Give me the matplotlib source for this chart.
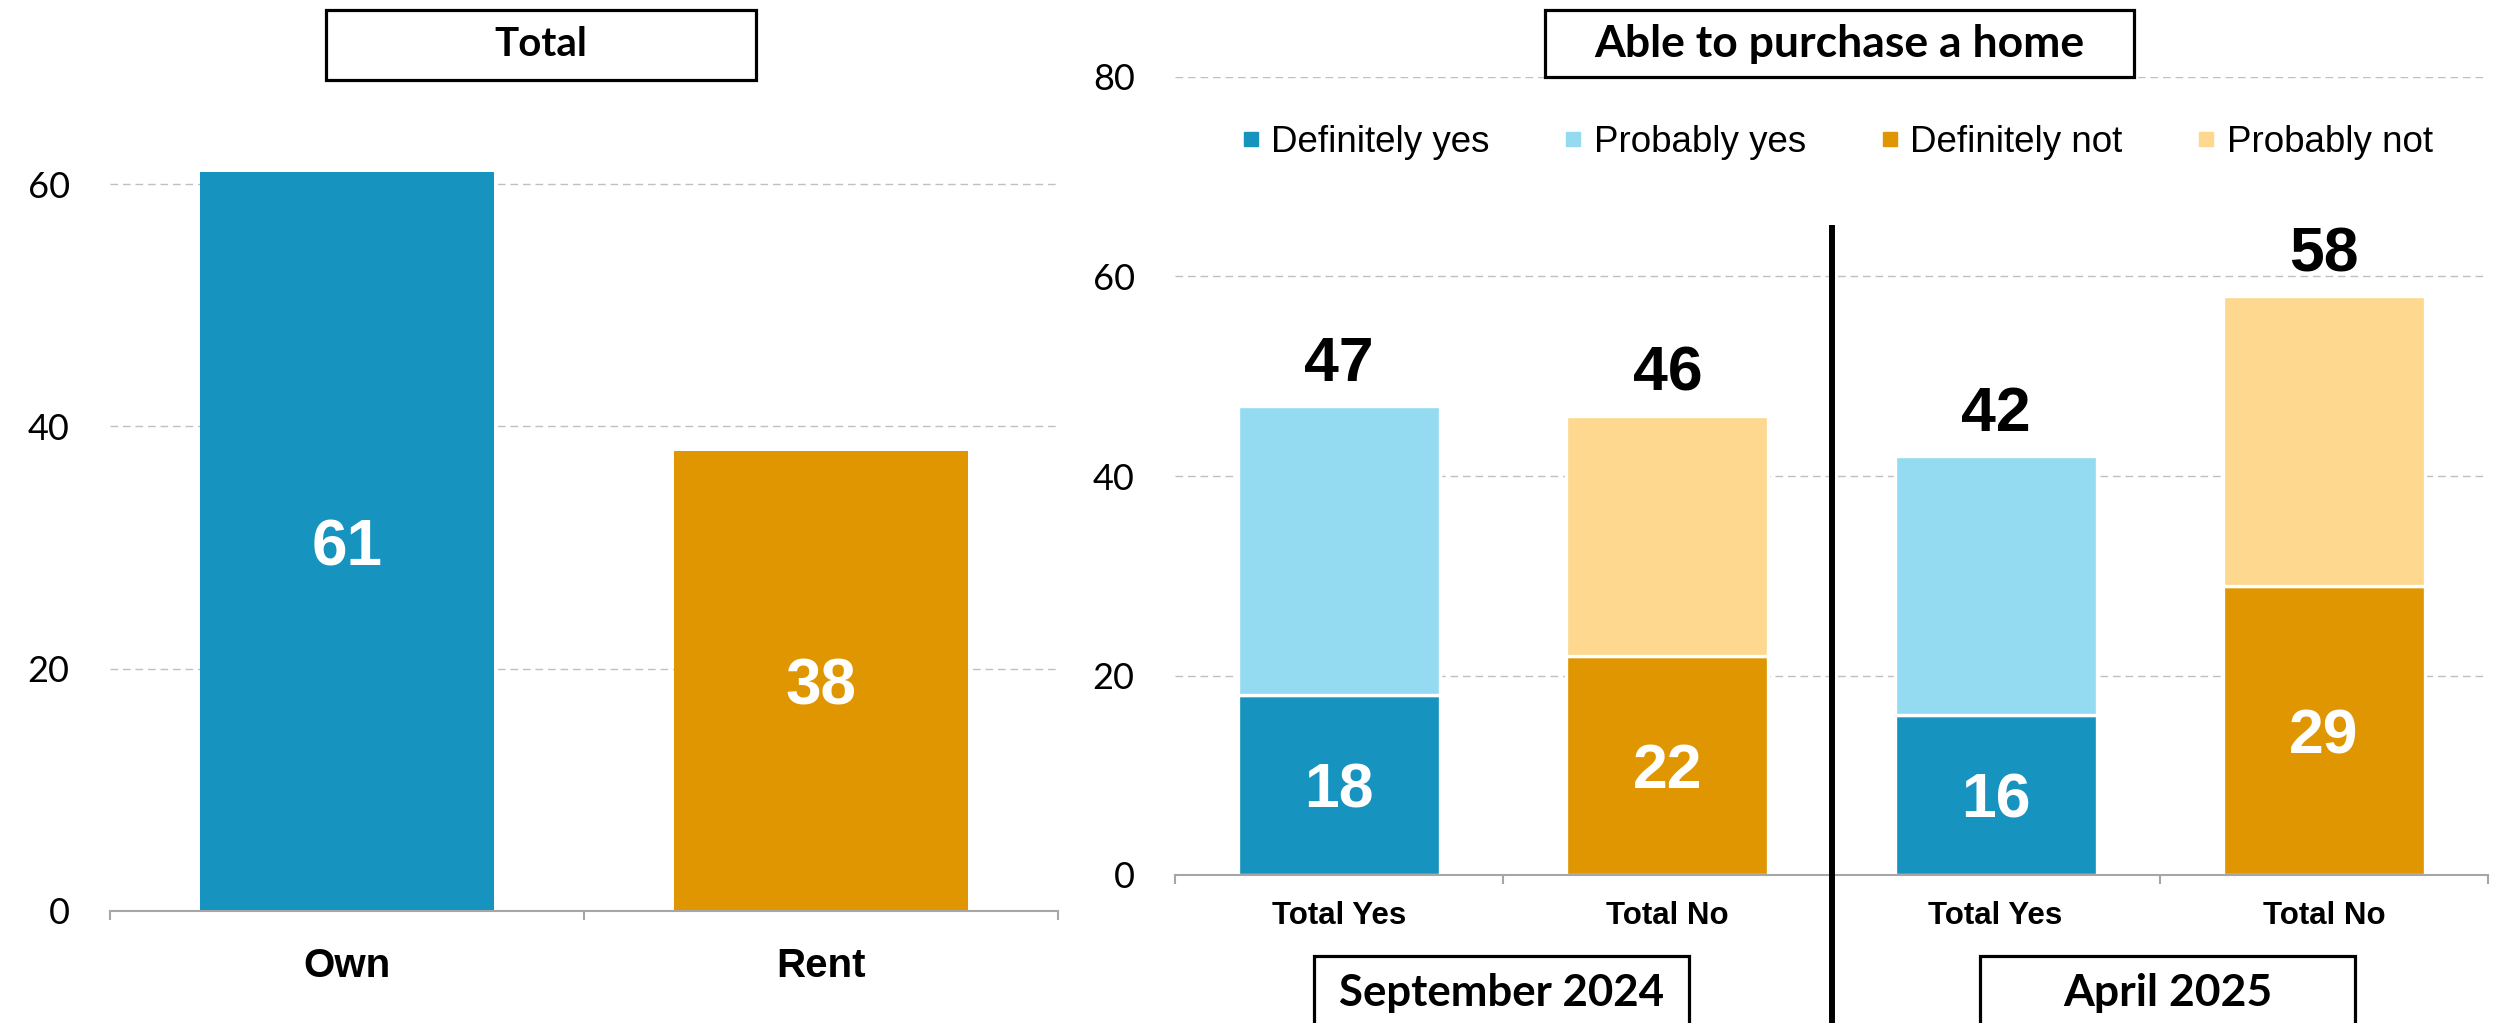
import matplotlib.pyplot as plt
from matplotlib.patches import Rectangle
from matplotlib.lines import Line2D
from matplotlib.transforms import blended_transform_factory

# Data
tenure_labels = ["Own", "Rent"]
tenure_values = [61, 38]

group_labels = ["Total Yes", "Total No", "Total Yes", "Total No"]
period_labels = ["September 2024", "April 2025"]
definite_values = [18, 22, 16, 29]
probable_values = [29, 24, 26, 29]

legend_labels = ["Definitely yes", "Probably yes", "Definitely not", "Probably not"]

# Colours
DARK_BLUE = "#1793BF"
LIGHT_BLUE = "#94DBF2"
ORANGE = "#E09600"
LIGHT_ORANGE = "#FDD88E"
GRID = "#C0C0C0"
AXIS = "#A6A6A6"

ARIAL = ["Liberation Sans", "DejaVu Sans"]
CALIBRI = ["Lato", "DejaVu Sans"]

W, H = 2503, 1023
fig = plt.figure(figsize=(W / 100, H / 100), dpi=100)


def px_rect(x0, y0, x1, y1):
    # figure pixel box (top-left origin) -> figure fraction rect
    return [x0 / W, 1 - y1 / H, (x1 - x0) / W, (y1 - y0) / H]


def style_axis(ax, n):
    ax.set_xlim(-0.5, n - 0.5)
    for s in ["left", "right", "top"]:
        ax.spines[s].set_visible(False)
    ax.spines["bottom"].set_color(AXIS)
    ax.spines["bottom"].set_linewidth(1.5)
    ax.set_axisbelow(True)
    ax.yaxis.grid(True, color=GRID, linewidth=1.0, linestyle=(0, (5.5, 3.5)))
    ax.tick_params(axis="y", length=0, pad=29)
    ax.set_xticks([i - 0.5 for i in range(n + 1)], minor=True)
    ax.tick_params(axis="x", which="minor", direction="out", length=6.5,
                   width=1.5, color=AXIS)
    ax.tick_params(axis="x", which="major", length=0)
    for lab in ax.get_yticklabels():
        lab.set_fontfamily(CALIBRI)
        lab.set_fontsize(26)


def title_box(x0, y0, x1, y1, text, size):
    fig.patches.append(Rectangle((x0 / W, 1 - y1 / H), (x1 - x0) / W, (y1 - y0) / H,
                                 transform=fig.transFigure, facecolor="white",
                                 edgecolor="black", linewidth=2.3, zorder=5))
    fig.text((x0 + x1) / 2 / W, 1 - (y0 + y1) / 2 / H, text, ha="center", va="center",
             fontsize=size, fontweight="bold", family=CALIBRI, zorder=6)


def value_label(ax, x, y, text, color, dy, size):
    ax.annotate(text, (x, y), xytext=(0, dy), textcoords="offset points",
                ha="center", va="center", color=color,
                fontsize=size, fontweight="bold", family=ARIAL)


# Left panel: Own / Rent
ax1 = fig.add_axes(px_rect(110, 63, 1058, 911))
x1 = range(len(tenure_labels))
ax1.bar(x1, tenure_values, width=0.62, color=[DARK_BLUE, ORANGE])
ax1.set_ylim(0, 70)
ax1.set_yticks([0, 20, 40, 60])
style_axis(ax1, len(tenure_labels))
ax1.set_xticks(list(x1))
ax1.set_xticklabels(tenure_labels, fontsize=29, fontweight="bold", family=ARIAL)
ax1.tick_params(axis="x", which="major", pad=26)
for i, v in enumerate(tenure_values):
    value_label(ax1, i, v / 2, str(v), "white", -5, 46)

# Right panel: able to purchase a home
ax2 = fig.add_axes(px_rect(1175, 77, 2488, 875))
x2 = list(range(len(group_labels)))
low_colors = [DARK_BLUE, ORANGE, DARK_BLUE, ORANGE]
high_colors = [LIGHT_BLUE, LIGHT_ORANGE, LIGHT_BLUE, LIGHT_ORANGE]
ax2.bar(x2, definite_values, width=0.615, color=low_colors,
        edgecolor="white", linewidth=2.4)
ax2.bar(x2, probable_values, width=0.615, bottom=definite_values, color=high_colors,
        edgecolor="white", linewidth=2.4)
ax2.set_ylim(0, 80)
ax2.set_yticks([0, 20, 40, 60, 80])
style_axis(ax2, len(group_labels))
ax2.set_xticks(x2)
ax2.set_xticklabels(group_labels, fontsize=22.5, fontweight="bold", family=ARIAL)
ax2.tick_params(axis="x", which="major", pad=19)
for i in x2:
    d, p = definite_values[i], probable_values[i]
    value_label(ax2, i, d / 2, str(d), "white", -4.5, 45)
    value_label(ax2, i, d + p, str(d + p), "black", 30, 45)

# thick divider between the two periods
blend = blended_transform_factory(ax2.transData, fig.transFigure)
ax2.add_line(Line2D([1.5, 1.5], [0, 1 - 228 / H], transform=blend, color="black",
                    linewidth=4.3, clip_on=False, zorder=4))

# legend
handles = [Line2D([], [], marker="s", linestyle="none", markersize=10,
                  markerfacecolor=c, markeredgecolor=c)
           for c in [DARK_BLUE, LIGHT_BLUE, ORANGE, LIGHT_ORANGE]]
fig.legend(handles, legend_labels, loc="center", ncol=4, frameon=False,
           bbox_to_anchor=(1838 / W, 1 - 142 / H), prop={"family": ARIAL, "size": 26.5},
           handlelength=0.4, handletextpad=0.35, columnspacing=2.08, borderpad=0)

# title and period boxes
title_box(326, 10, 756, 80, "Total", 29)
title_box(1545, 10, 2134, 77, "Able to purchase a home", 32)
title_box(1314, 956, 1689, 1030, period_labels[0], 31.5)
title_box(1980, 956, 2355, 1030, period_labels[1], 32)

fig.savefig("out.png", dpi=100)
